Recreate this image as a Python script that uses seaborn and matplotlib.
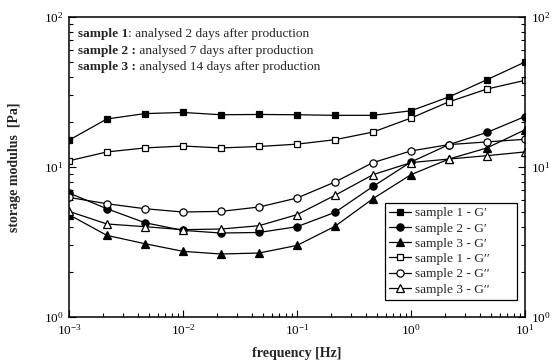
import numpy as np
import pandas as pd
import matplotlib
matplotlib.use("Agg")
import matplotlib.pyplot as plt
import seaborn as sns

# Oscillation frequencies (Hz), three points per decade
freq = [0.001, 0.00215, 0.00464, 0.01, 0.0215, 0.0464, 0.1,
        0.215, 0.464, 1.0, 2.15, 4.64, 10.0]

# Storage modulus G' (Pa)
s1_gp = [15.1, 20.9, 22.7, 23.1, 22.3, 22.4, 22.3, 22.1, 22.1, 23.7, 29.3, 38.2, 50.1]
s2_gp = [6.71, 5.27, 4.25, 3.78, 3.63, 3.66, 4.00, 4.98, 7.42, 10.8, 14.1, 17.0, 21.7]
s3_gp = [4.81, 3.50, 3.08, 2.74, 2.63, 2.67, 3.00, 4.02, 6.15, 8.89, 11.3, 13.4, 17.7]

# Loss modulus G'' (Pa)
s1_gpp = [11.0, 12.6, 13.4, 13.8, 13.4, 13.7, 14.2, 15.2, 17.1, 21.2, 27.2, 33.1, 37.8]
s2_gpp = [6.27, 5.69, 5.27, 5.01, 5.06, 5.41, 6.21, 7.94, 10.7, 12.8, 14.1, 14.7, 15.3]
s3_gpp = [5.06, 4.17, 4.00, 3.82, 3.86, 4.06, 4.81, 6.47, 8.89, 10.7, 11.3, 11.9, 12.6]

labels = ["sample 1 - G\u2032", "sample 2 - G\u2032", "sample 3 - G\u2032",
          "sample 1 - G\u2032\u2032", "sample 2 - G\u2032\u2032", "sample 3 - G\u2032\u2032"]
values = [s1_gp, s2_gp, s3_gp, s1_gpp, s2_gpp, s3_gpp]
markers = ["s", "o", "^", "s", "o", "^"]
filled = [True, True, True, False, False, False]
msizes = [5.0, 5.2, 5.4, 5.0, 5.2, 5.4]

notes_bold = ["sample 1", "sample 2 :", "sample 3 :"]
notes_rest = [": analysed 2 days after production",
              " analysed 7 days after production",
              " analysed 14 days after production"]

sns.set_style("ticks")
plt.rcParams["font.family"] = ["Liberation Serif", "DejaVu Serif"]
plt.rcParams["mathtext.fontset"] = "custom"
plt.rcParams["mathtext.rm"] = "Liberation Serif"
plt.rcParams["mathtext.it"] = "Liberation Serif:italic"
plt.rcParams["mathtext.bf"] = "Liberation Serif:bold"

W, H = 555, 364
fig = plt.figure(figsize=(W / 100, H / 100), dpi=100)
ax = fig.add_axes([69 / W, 1 - 317 / H, 456 / W, 300 / H])

df = pd.DataFrame({"freq": freq * len(labels),
                   "G": sum(values, []),
                   "series": sum([[lab] * len(freq) for lab in labels], [])})

for lab, mk, fl, ms in zip(labels, markers, filled, msizes):
    sns.lineplot(data=df[df["series"] == lab], x="freq", y="G", ax=ax,
                 color="black", linewidth=0.9, marker=mk, markersize=ms,
                 markerfacecolor="black" if fl else "white",
                 markeredgecolor="black", markeredgewidth=0.9,
                 label=lab, legend=False)

ax.set_xscale("log")
ax.set_yscale("log")
ax.set_xlim(1e-3, 1e1)
ax.set_ylim(1, 100)

for sp in ax.spines.values():
    sp.set_linewidth(1.1)
    sp.set_color("black")

ax.tick_params(which="both", direction="in", top=False, right=True,
               labelright=True, colors="black", labelsize=9.5, width=0.8)
ax.tick_params(which="major", length=5, pad=4)
ax.tick_params(which="minor", length=3)

ax.set_xlabel("frequency [Hz]", fontsize=10, fontweight="bold")
ax.set_ylabel("storage modulus  [Pa]", fontsize=10, fontweight="bold")
ax.xaxis.set_label_coords(0.5, -0.1)
ax.yaxis.set_label_coords(-0.105, 0.5)

# Sample descriptions in the upper left corner
y0 = 0.943
for i, (b, r) in enumerate(zip(notes_bold, notes_rest)):
    t = ax.text(0.02, y0 - i * 0.055, b, transform=ax.transAxes,
                fontsize=9.6, fontweight="bold", va="center", ha="left")
    ax.annotate(r, xy=(1, 0), xycoords=t, va="bottom", ha="left",
                fontsize=9.6)

h, l = ax.get_legend_handles_labels()
leg = ax.legend(h, l, loc="lower left", bbox_to_anchor=(0.693, 0.057, 0.289, 0.3),
                mode="expand", borderaxespad=0, fontsize=9.6, frameon=True,
                fancybox=False, framealpha=1, edgecolor="black",
                handlelength=1.6, handletextpad=0.3, labelspacing=0.22,
                borderpad=0.32)
leg.get_frame().set_linewidth(0.9)

fig.savefig("out.png", dpi=100)
